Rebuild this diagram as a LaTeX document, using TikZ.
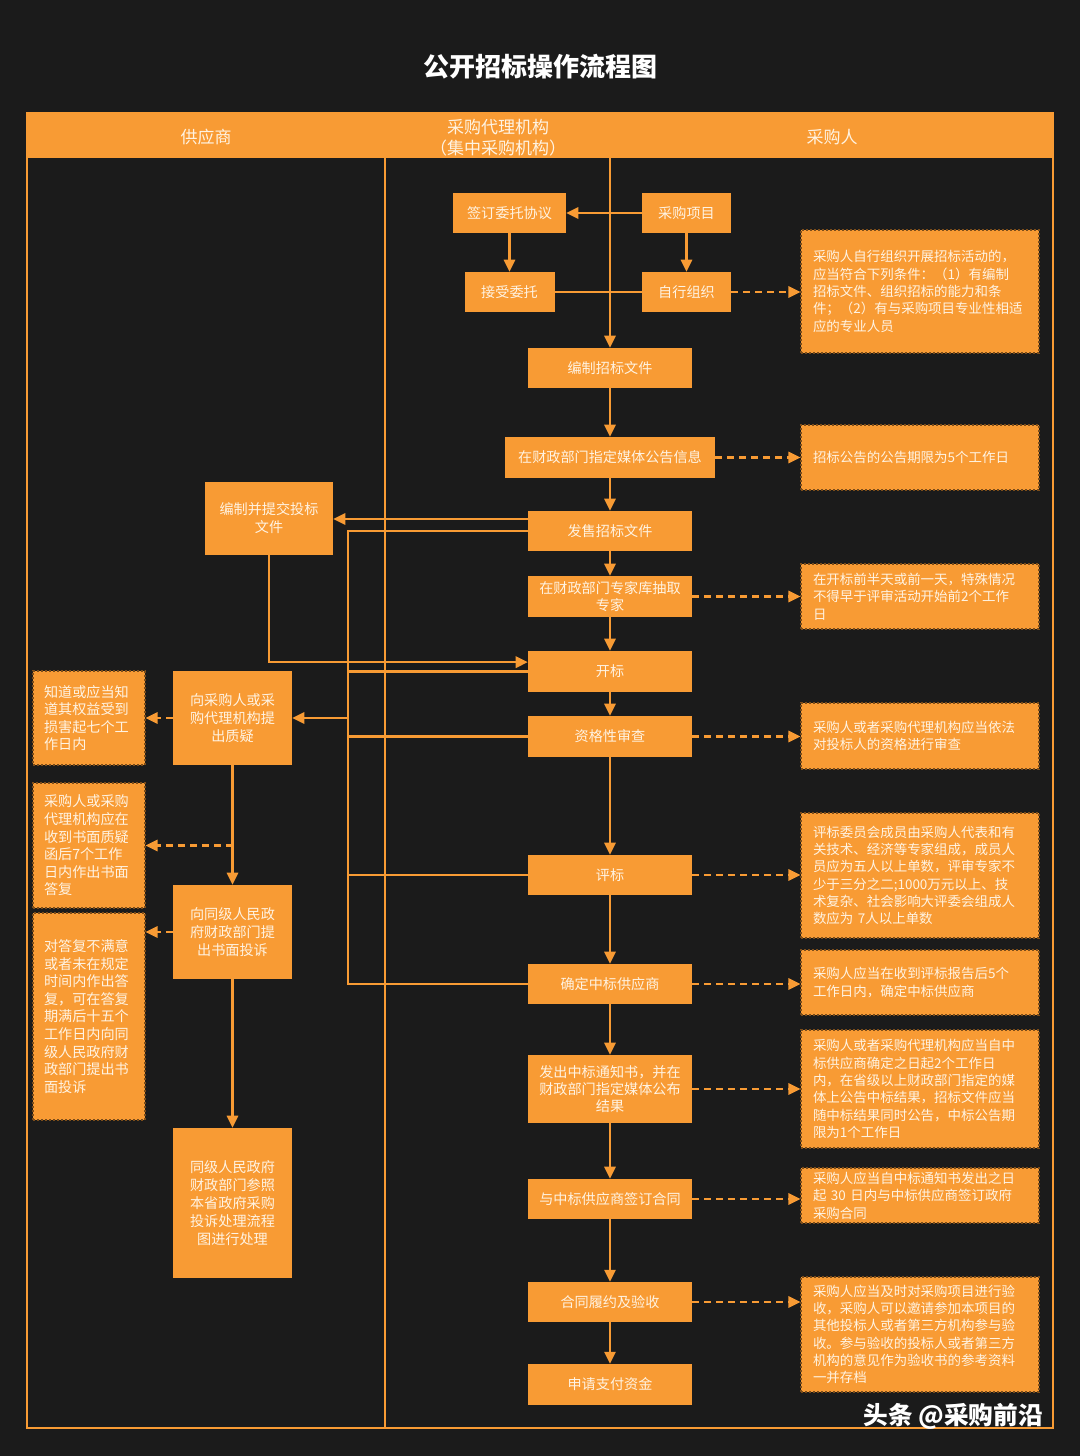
\documentclass[tikz,border=0pt]{standalone}
\usepackage{fontspec}
\setmainfont{Noto Sans CJK SC}
\usetikzlibrary{arrows.meta}
\definecolor{bg}{HTML}{1B1B1B}
\definecolor{og}{HTML}{F89B34}
\definecolor{tx}{HTML}{FFF3E2}
\tikzset{
 sz/.style 2 args={minimum width=#1*0.75pt, minimum height=#2*0.75pt},
 fb/.style={fill=og, text=tx, inner sep=0pt, align=center, font=\fontsize{10.6}{13}\selectfont},
 lb/.style={fb, font=\fontsize{10.6}{13.5}\selectfont},
 nb/.style={fill=og, draw=og!50!black, dash pattern=on 1.5pt off 1.5pt, line width=0.8pt, text=tx, inner sep=0pt, align=left, font=\fontsize{10.1}{13}\selectfont},
 rn/.style={nb, text width=160.5pt},
 lnote/.style={nb, text width=67.5pt, font=\fontsize{10.6}{13.2}\selectfont},
 ln/.style={draw=og, line width=1.6pt},
 lane/.style={draw=og, line width=1.1pt},
 arr/.style={ln, -{Triangle[length=9pt,width=8.5pt]}},
 darr/.style={arr, dash pattern=on 5pt off 4pt},
 hd/.style={text=tx, align=center, font=\fontsize{12.75}{16}\selectfont},
}
\begin{document}
\begin{tikzpicture}[x=0.75pt,y=-0.75pt]
\fill[bg] (0,0) rectangle (1080,1456);
\useasboundingbox (0,0) rectangle (1080,1456);

% title
\node[text=white, font=\bfseries\fontsize{19.5}{23}\selectfont] (title) at (540,67) {公开招标操作流程图};

% header and lanes
\fill[og] (27,113) rectangle (1053,158);
\draw[lane] (27,113) rectangle (1053,1428);
\draw[lane] (385,158) -- (385,1428);
\node[hd] (h1) at (206,137) {供应商};
\node[hd] (h2) at (498,138) {采购代理机构\\（集中采购机构）};
\node[hd] (h3) at (832,137) {采购人};

% top boxes
\node[fb, sz={113}{40}] (a1) at (509.5,213) {签订委托协议};
\node[fb, sz={89}{40}] (a2) at (686.5,213) {采购项目};
\node[fb, sz={90}{40}] (a3) at (509.5,292) {接受委托};
\node[fb, sz={89}{40}] (a4) at (686.5,292) {自行组织};

% main flow
\node[fb, sz={164}{40}] (b1) at (610,368) {编制招标文件};
\node[fb, sz={210}{41}] (b2) at (610,457.5) {在财政部门指定媒体公告信息};
\node[fb, sz={164}{40}] (b3) at (610,531) {发售招标文件};
\node[fb, sz={164}{41}] (b4) at (610,596.5) {在财政部门专家库抽取\\专家};
\node[fb, sz={164}{41}] (b5) at (610,671.5) {开标};
\node[fb, sz={164}{41}] (b6) at (610,736.5) {资格性审查};
\node[fb, sz={164}{40}] (b7) at (610,875) {评标};
\node[fb, sz={164}{40}] (b8) at (610,984) {确定中标供应商};
\node[fb, sz={164}{68}] (b9) at (610,1089) {发出中标通知书，并在\\财政部门指定媒体公布\\结果};
\node[fb, sz={164}{40}] (b10) at (610,1199) {与中标供应商签订合同};
\node[fb, sz={164}{40}] (b11) at (610,1302) {合同履约及验收};
\node[fb, sz={164}{41}] (b12) at (610,1384.5) {申请支付资金};

% supplier boxes
\node[lb, sz={128}{73}] (c1) at (269,518.5) {编制并提交投标\\文件};
\node[lb, sz={119}{94}] (c2) at (232.5,718) {向采购人或采\\购代理机构提\\出质疑};
\node[lb, sz={119}{94}] (c3) at (232.5,932) {向同级人民政\\府财政部门提\\出书面投诉};
\node[lb, sz={119}{150}] (c4) at (232.5,1203) {同级人民政府\\财政部门参照\\本省政府采购\\投诉处理流程\\图进行处理};

% left notes
\node[lnote, sz={112}{94}] (d1) at (89,718) {知道或应当知\\道其权益受到\\损害起七个工\\作日内};
\node[lnote, sz={112}{125}] (d2) at (89,845.5) {采购人或采购\\代理机构应在\\收到书面质疑\\函后7个工作\\日内作出书面\\答复};
\node[lnote, sz={112}{207}] (d3) at (89,1016.5) {对答复不满意\\或者未在规定\\时间内作出答\\复，可在答复\\期满后十五个\\工作日内向同\\级人民政府财\\政部门提出书\\面投诉};

% right notes
\node[rn, sz={238}{123}] (n1) at (920,291.5) {采购人自行组织开展招标活动的，\\应当符合下列条件：（1）有编制\\招标文件、组织招标的能力和条\\件；（2）有与采购项目专业性相适\\应的专业人员};
\node[rn, sz={238}{65}] (n2) at (920,457.5) {招标公告的公告期限为5个工作日};
\node[rn, sz={238}{65}] (n3) at (920,596.5) {在开标前半天或前一天，特殊情况\\不得早于评审活动开始前2个工作\\日};
\node[rn, sz={238}{66}] (n4) at (920,736) {采购人或者采购代理机构应当依法\\对投标人的资格进行审查};
\node[rn, sz={238}{125}] (n5) at (920,875.5) {评标委员会成员由采购人代表和有\\关技术、经济等专家组成，成员人\\员应为五人以上单数，评审专家不\\少于三分之二;1000万元以上、技\\术复杂、社会影响大评委会组成人\\数应为 7人以上单数};
\node[rn, sz={238}{65}] (n6) at (920,982.5) {采购人应当在收到评标报告后5个\\工作日内，确定中标供应商};
\node[rn, sz={238}{118}] (n7) at (920,1089) {采购人或者采购代理机构应当自中\\标供应商确定之日起2个工作日\\内，在省级以上财政部门指定的媒\\体上公告中标结果，招标文件应当\\随中标结果同时公告，中标公告期\\限为1个工作日};
\node[rn, sz={238}{55}] (n8) at (920,1195.5) {采购人应当自中标通知书发出之日\\起 30 日内与中标供应商签订政府\\采购合同};
\node[rn, sz={238}{115}] (n9) at (920,1334.5) {采购人应当及时对采购项目进行验\\收，采购人可以邀请参加本项目的\\其他投标人或者第三方机构参与验\\收。参与验收的投标人或者第三方\\机构的意见作为验收书的参考资料\\一并存档};

% top connectors
\coordinate (t0) at (610,158);
\draw[arr] (a2.west) -- (a1.east);
\draw[arr] (a1.south) -- (a3.north);
\draw[arr] (a2.south) -- (a4.north);
\draw[ln] (a3.east) -- (a4.west);
\draw[arr] (t0) -- (b1.north);
\draw[darr] (a4.east) -- (a4.east -| n1.west);

% main chain
\foreach \p/\q in {b1/b2,b2/b3,b3/b4,b4/b5,b5/b6,b6/b7,b7/b8,b8/b9,b9/b10,b10/b11,b11/b12}
  \draw[arr] (\p.south) -- (\q.north);

% dashed notes
\foreach \p/\q in {b2/n2,b4/n3,b6/n4,b7/n5,b8/n6,b9/n7,b10/n8,b11/n9}
  \draw[darr] (\p.east) -- (\p.east -| \q.west);

% supplier flows
\draw[arr] ([yshift=9pt]b3.west) -- ([yshift=9pt]b3.west -| c1.east);
\draw[arr] (c1.south) |- ([yshift=7pt]b5.west);
\coordinate (bt) at (348,531);
\coordinate (bb) at (348,984);
\draw[ln] (b3.west) -- (bt) -- (bb) -- (b8.west);
\draw[ln] (b5.west) -- (b5.west -| bt);
\draw[ln] (b6.west) -- (b6.west -| bt);
\draw[ln] (b7.west) -- (b7.west -| bt);
\draw[arr] (bt |- c2.east) -- (c2.east);
\draw[darr] (c2.west) -- (c2.west -| d1.east);
\draw[arr] (c2.south) -- (c3.north);
\draw[darr] (c2.south |- d2.east) -- (d2.east);
\draw[darr] (c3.west) -- (c3.west -| d3.east);
\draw[arr] (c3.south) -- (c4.north);

% watermark
\node[text=white, font=\bfseries\fontsize{18.5}{22}\selectfont] (wm) at (953,1416) {头条 @采购前沿};
\end{tikzpicture}
\end{document}
